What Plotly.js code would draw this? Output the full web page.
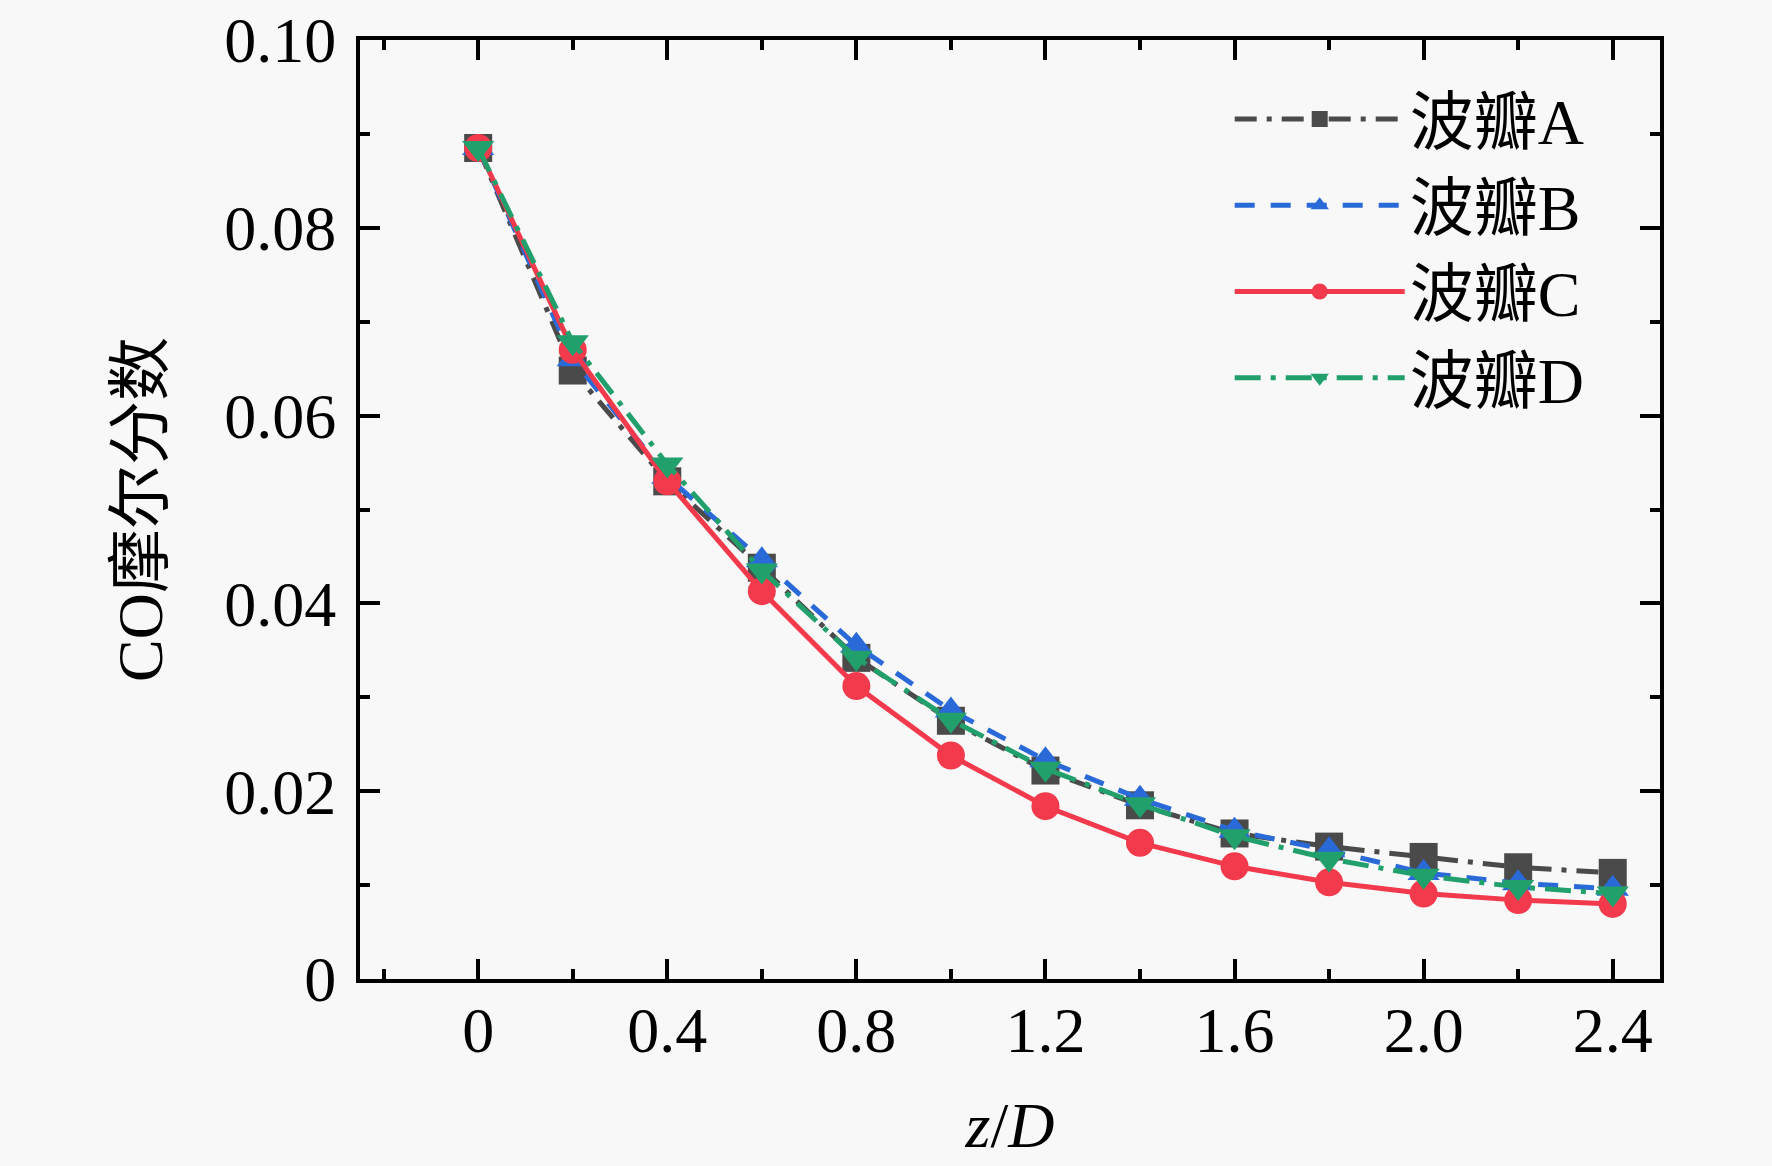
<!DOCTYPE html>
<html>
<head>
<meta charset="utf-8">
<script src="https://cdn.plot.ly/plotly-3.0.1.min.js"></script>
<style>html,body{margin:0;padding:0;background:#f8f8f8;}#chart{width:1772px;height:1166px;}</style>
</head>
<body>
<div id="chart"></div>
<script>
var zD = [0, 0.2, 0.4, 0.6, 0.8, 1.0, 1.2, 1.4, 1.6, 1.8, 2.0, 2.2, 2.4];
var lobeA = [0.0885, 0.0648, 0.0530, 0.0438, 0.0342, 0.0275, 0.0222, 0.0185, 0.0155, 0.0141, 0.0130, 0.0119, 0.0113];
var lobeB = [0.0885, 0.0660, 0.0535, 0.0446, 0.0355, 0.0286, 0.0233, 0.0192, 0.0158, 0.0137, 0.0113, 0.0102, 0.0096];
var lobeC = [0.0885, 0.0670, 0.0530, 0.0413, 0.0312, 0.0238, 0.0184, 0.0145, 0.0120, 0.0103, 0.0091, 0.0084, 0.0080];
var lobeD = [0.0885, 0.0678, 0.0548, 0.0435, 0.0342, 0.0276, 0.0224, 0.0186, 0.0152, 0.0128, 0.0110, 0.0098, 0.0091];
var names = ['波瓣A', '波瓣B', '波瓣C', '波瓣D'];
var xTickVals = [0, 0.4, 0.8, 1.2, 1.6, 2.0, 2.4];
var xTickText = ['0', '0.4', '0.8', '1.2', '1.6', '2.0', '2.4'];
var yTickVals = [0, 0.02, 0.04, 0.06, 0.08, 0.10];
var yTickText = ['0', '0.02', '0.04', '0.06', '0.08', '0.10'];

var FONT = '"Times New Roman", "Liberation Serif", "Noto Sans CJK SC", serif';

function tr(y, name, color, dash, symbol, grp) {
  return {
    x: zD, y: y, name: name, type: 'scatter', mode: 'lines+markers',
    legendgroup: grp,
    line: {color: color, width: 5, dash: dash},
    marker: {color: color, size: 28, symbol: symbol, line: {width: 0}}
  };
}

var data = [
  tr(lobeA, names[0], '#4a4a4a', '22px,10px,5px,10px', 'square', 'a'),
  tr(lobeB, names[1], '#2a6ad8', '20px,16px', 'triangle-up', 'b'),
  tr(lobeC, names[2], '#f23a4c', 'solid', 'circle', 'c'),
  tr(lobeD, names[3], '#22a06c', '26px,10px,5px,10px', 'triangle-down', 'd')
];

var axisCommon = {
  showline: true, linecolor: '#000', linewidth: 4, mirror: 'ticks',
  ticks: 'inside', ticklen: 20, tickwidth: 4, tickcolor: '#000',
  showgrid: false, zeroline: false, ticklabeloverflow: 'allow',
  tickfont: {family: FONT, size: 64, color: '#000'}
};

var layout = {
  width: 1772, height: 1166,
  paper_bgcolor: '#f8f8f8', plot_bgcolor: '#f8f8f8',
  margin: {l: 360, r: 112, t: 40, b: 187},
  showlegend: true,
  legend: {
    x: 0.669, y: 0.967, xanchor: 'left', yanchor: 'top',
    bgcolor: 'rgba(0,0,0,0)', borderwidth: 0,
    font: {family: FONT, size: 64, color: '#000'},
    itemwidth: 170, tracegroupgap: 31, traceorder: 'normal'
  },
  xaxis: Object.assign({}, axisCommon, {
    range: [-0.25, 2.5], tickmode: 'array', tickvals: xTickVals, ticktext: xTickText,
    ticklabelstandoff: -8,
    minor: {ticks: 'inside', ticklen: 10, tickwidth: 4, tickcolor: '#000', dtick: 0.2, tick0: 0, showgrid: false},
    title: {text: '<i>z</i>/<i>D</i>', font: {family: FONT, size: 64, color: '#000'}, standoff: 38}
  }),
  yaxis: Object.assign({}, axisCommon, {
    range: [0, 0.1], tickmode: 'array', tickvals: yTickVals, ticktext: yTickText,
    ticklabelstandoff: 7,
    minor: {ticks: 'inside', ticklen: 10, tickwidth: 4, tickcolor: '#000', dtick: 0.01, tick0: 0, showgrid: false},
    title: {text: 'CO摩尔分数', font: {family: FONT, size: 64, color: '#000'}, standoff: 42}
  })
};

Plotly.newPlot('chart', data, layout, {displayModeBar: false, staticPlot: true});
</script>
</body>
</html>
